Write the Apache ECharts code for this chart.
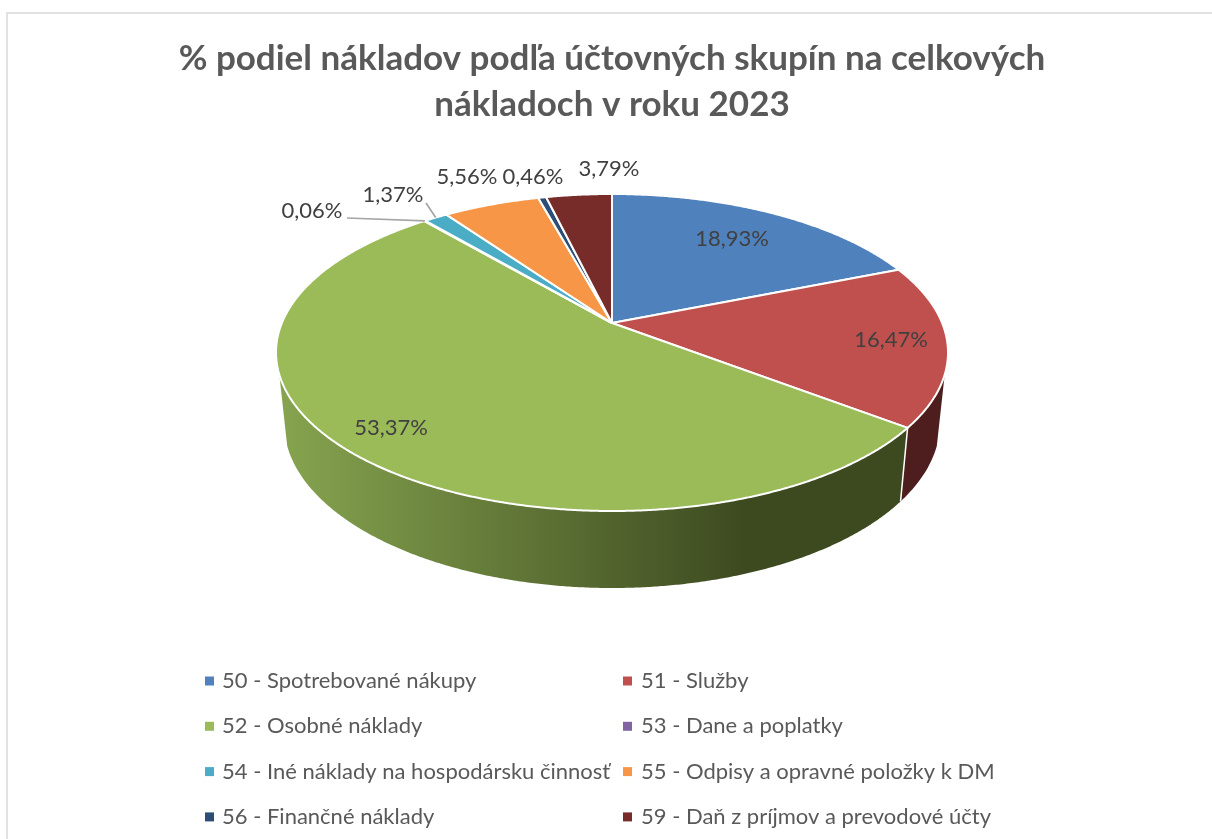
<!DOCTYPE html>
<html>
<head>
<meta charset="utf-8">
<title>Podiel nákladov 2023</title>
<script src="https://cdn.jsdelivr.net/npm/echarts@6/dist/echarts.min.js"></script>
<style>
  html, body { margin: 0; padding: 0; background: #fff; }
  #chart { width: 1212px; height: 839px; }
</style>
</head>
<body>
<div id="chart"></div>
<script>
var categories = [
  '50 - Spotrebované nákupy',
  '51 - Služby',
  '52 - Osobné náklady',
  '53 - Dane a poplatky',
  '54 - Iné náklady na hospodársku činnosť',
  '55 - Odpisy a opravné položky k DM',
  '56 - Finančné náklady',
  '59 - Daň z príjmov a prevodové účty'
]
var values = [18.93, 16.47, 53.37, 0.06, 1.37, 5.56, 0.46, 3.79]
var valueLabels = ['18,93%', '16,47%', '53,37%', '0,06%', '1,37%', '5,56%', '0,46%', '3,79%']
var colors = ['#4f81bd', '#c0504d', '#9bbb59', '#8064a2', '#4bacc6', '#f79646', '#2c4d75', '#772c2a']

// where the labels sit, the pie is drawn from the values
var labelAt = [[732, 239], [891, 340], [391, 428], [312, 211], [393, 195], [467, 177], [533, 177], [609, 169]]
var leaderFrom = { 3: [347, 218], 4: [426, 203] }

// the 3d look: both rims are circles seen in perspective (pie centre lands at y 323, not 352)
var cx = 612, apexY = 323
var topRim = { cy: 352.5, rx: 336, ry: 158.5 }
var bottomRim = { cy: 423, rx: 328, ry: 165 }
var k = (topRim.cy - apexY) / topRim.ry
// the side wall only faces the viewer between these two angles
var wallFrom = 108.5 * Math.PI / 180, wallTo = 251.5 * Math.PI / 180

var total = values.reduce(function (a, b) { return a + b }, 0)

function project(e, angle) {
  var u = Math.sin(angle), v = Math.cos(angle), w = 1 + k * v
  return [cx + e.rx * Math.sqrt(1 - k * k) * u / w, e.cy - e.ry * (v + k) / w]
}
function rimPoints(e, a0, a1) {
  var n = Math.max(2, Math.ceil((a1 - a0) / 0.006))
  var pts = []
  for (var i = 0; i <= n; i++) pts.push(project(e, a0 + (a1 - a0) * i / n))
  return pts
}
function wallFill(i) {
  if (i === 2) {
    return new echarts.graphic.LinearGradient(280, 0, 745, 0, [
      { offset: 0, color: '#86a44f' },
      { offset: 1, color: '#3d4a20' }
    ], true)
  }
  return '#4d1e1d'
}

function sliceRenderer(i) {
  var before = 0
  for (var j = 0; j < i; j++) before += values[j]
  return function (params, api) {
    var a0 = before / total * Math.PI * 2
    var a1 = (before + api.value(0)) / total * Math.PI * 2
    var pts = rimPoints(topRim, a0, a1)
    var children = [
      { type: 'polygon', z2: 10, shape: { points: [[cx, apexY]].concat(pts) },
        style: { fill: colors[i], stroke: '#fff', lineWidth: 2, lineJoin: 'round' } },
      { type: 'text', z2: 30, style: {
        text: valueLabels[i], x: labelAt[i][0], y: labelAt[i][1], align: 'center', verticalAlign: 'middle',
        fill: '#404040', font: '22px Lato, sans-serif'
      } }
    ]
    var w0 = Math.max(a0, wallFrom), w1 = Math.min(a1, wallTo)
    if (w1 > w0) {
      var up = rimPoints(topRim, w0, w1)
      var low = rimPoints(bottomRim, w0, w1)
      children.push({ type: 'polygon', z2: 1, shape: { points: up.concat(low.slice().reverse()) }, style: { fill: wallFill(i) } })
      if (a0 >= wallFrom) {
        children.push({ type: 'line', z2: 2, shape: { x1: up[0][0], y1: up[0][1], x2: low[0][0], y2: low[0][1] },
          style: { stroke: '#fff', lineWidth: 1.5 } })
      }
    }
    if (leaderFrom[i]) {
      var end = project(topRim, (a0 + a1) / 2)
      children.push({ type: 'line', z2: 20,
        shape: { x1: leaderFrom[i][0], y1: leaderFrom[i][1], x2: end[0], y2: end[1] },
        style: { stroke: '#a6a6a6', lineWidth: 1.75 } })
    }
    return { type: 'group', children: children }
  }
}

var series = categories.map(function (name, i) {
  return {
    type: 'custom',
    name: name,
    coordinateSystem: 'none',
    silent: true,
    itemStyle: { color: colors[i] },
    renderItem: sliceRenderer(i),
    data: [values[i]]
  }
})

function legendColumn(left, textGap, names) {
  return {
    orient: 'vertical',
    left: left,
    top: 664,
    itemWidth: 9,
    itemHeight: 9,
    itemGap: 21.3,
    icon: 'rect',
    selectedMode: false,
    textStyle: { color: '#595959', fontSize: 22, fontFamily: 'Lato, sans-serif', padding: [0, 0, 0, textGap], lineHeight: 24 },
    data: names
  }
}

var chart = echarts.init(document.getElementById('chart'))
chart.setOption({
  animation: false,
  backgroundColor: '#fff',
  title: {
    text: '% podiel nákladov podľa účtovných skupín na celkových\nnákladoch v roku 2023',
    left: 607,
    top: 31,
    textAlign: 'center',
    textStyle: { color: '#595959', fontSize: 35, fontWeight: 'bold', fontFamily: 'Lato, sans-serif', lineHeight: 46 }
  },
  legend: [
    legendColumn(200, 3, [categories[0], categories[2], categories[4], categories[6]]),
    legendColumn(618, 4, [categories[1], categories[3], categories[5], categories[7]])
  ],
  graphic: [{
    type: 'rect',
    silent: true,
    shape: { x: 7, y: 13, width: 1300, height: 900 },
    style: { fill: 'none', stroke: '#d9d9d9', lineWidth: 1.5 }
  }],
  series: series
})
</script>
</body>
</html>
